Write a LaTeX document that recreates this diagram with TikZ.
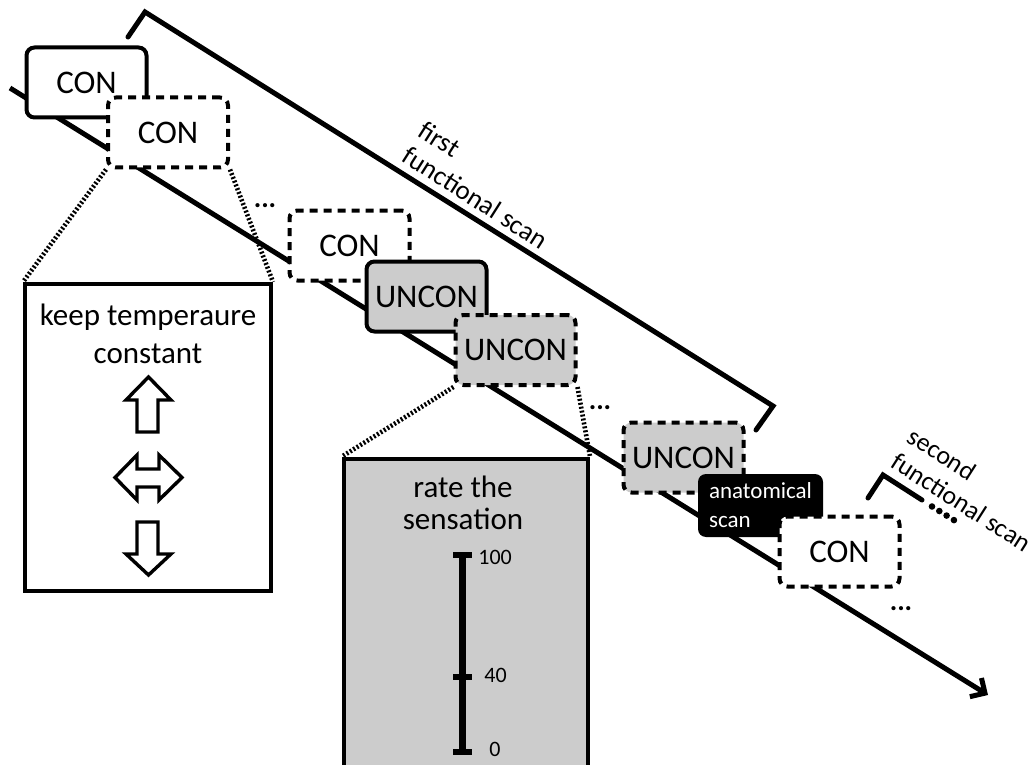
\documentclass[tikz,border=0pt]{standalone}
\usepackage{fontspec}
\setmainfont{Carlito}
\usetikzlibrary{arrows.meta}
\newcommand{\fsz}[2]{\fontsize{#1}{#2}\selectfont}
\definecolor{boxgray}{HTML}{CCCCCC}
\begin{document}
\begin{tikzpicture}[x=0.5pt,y=-0.5pt,
  box/.style={draw=black, line width=2pt, rounded corners=4pt, minimum width=60pt, minimum height=35pt, inner sep=0pt, font=\fsz{16.5}{18}, fill=white},
  dashbox/.style={box, dash pattern=on 4pt off 3pt},
  grayfill/.style={fill=boxgray},
  anatbox/.style={fill=black, rounded corners=4pt, minimum width=62.5pt, minimum height=31.5pt, inner sep=0pt, text=white, align=left, font=\fsz{11.5}{14.5}},
  dotsnode/.style={inner sep=0pt, font=\fsz{14}{15}\bfseries},
  timeline/.style={line width=2.5pt, -{Straight Barb[length=5.5pt,width=11pt]}},
  bracketline/.style={line width=2.5pt, line join=miter, line cap=round},
  bracketdots/.style={line width=3.3pt, line cap=round, dash pattern=on 0pt off 4.3pt},
  zoomline/.style={line width=2.3pt, dash pattern=on 1pt off 1pt},
  panel/.style={draw=black, line width=2pt, inner sep=0pt},
  blockarrow/.style={draw=black, line width=1.7pt, fill=white, line join=miter},
  scalebar/.style={line width=3.5pt},
  scaletick/.style={line width=2.6pt},
  scalelabel/.style={inner sep=0pt, anchor=west, font=\fsz{11}{12}},
  paneltext/.style={inner sep=0pt, anchor=north, align=center},
  scanlabel/.style={inner sep=0pt, anchor=south west, align=left, rotate=-32.5, font=\fsz{13.5}{15}}
]
\clip (0,0) rectangle (1034,765);
\useasboundingbox (0,0) rectangle (1034,765);

% time line
\coordinate (t0) at (10,88);
\coordinate (t1) at (988,695);
\draw[timeline] (t0) -- (t1);

% first functional scan bracket
\coordinate (f0) at (128,37);
\coordinate (f1) at (145,12);
\coordinate (f2) at (773,406);
\coordinate (f3) at (756,430);
\draw[bracketline] (f0) -- (f1) -- (f2) -- (f3);
\node[scanlabel] (lab1) at (400,161) {first\\functional scan};

% second functional scan bracket
\coordinate (s0) at (868,498);
\coordinate (s1) at (883,475);
\coordinate (s2) at (922,500);
\coordinate (s3) at (932,506.5);
\coordinate (s4) at (957,522);
\draw[bracketline] (s0) -- (s1) -- (s2);
\draw[bracketdots] (s3) -- (s4);
\node[scanlabel, font=\fsz{13}{15}] (lab2) at (889,467) {second\\functional scan};

% panels
\node[panel, fill=white, minimum width=123pt, minimum height=153.5pt] (lp) at (148,437.5) {};
\node[panel, fill=boxgray, minimum width=122pt, minimum height=156pt] (rp) at (466,614.5) {};

% boxes
\node[box] (c1) at (86.5,82.5) {CON};
\node[dashbox] (c2) at (168,132.5) {CON};
\node[dotsnode] (d1) at (265,206) {...};
\node[dashbox] (c3) at (349.5,245.5) {CON};
\node[box, grayfill] (u1) at (426.5,296.5) {UNCON};
\node[dashbox, grayfill] (u2) at (515.5,350) {UNCON};
\node[dotsnode] (d2) at (600,408) {...};
\node[dashbox, grayfill] (u3) at (683.5,457.5) {UNCON};
\node[anatbox] (an) at (760.5,505.5) {anatomical\\scan};
\node[dashbox] (c4) at (839.5,551.5) {CON};
\node[dotsnode] (d3) at (901,609) {...};

% zoom lines
\draw[zoomline] (c2.south west) -- (lp.north west);
\draw[zoomline] (c2.south east) -- (lp.north east);
\draw[zoomline] (u2.south west) -- (rp.north west);
\draw[zoomline] (u2.south east) -- (rp.north east);

% left panel content
\node[paneltext, font=\fsz{15.5}{19}] (lt) at (148,304) {keep temperaure\\constant};
\draw[blockarrow] (148.5,377) -- (171,400) -- (158,400) -- (158,432) -- (137,432) -- (137,400) -- (126,400) -- cycle;
\draw[blockarrow] (115,477.5) -- (137,455) -- (137,469) -- (159,469) -- (159,455) -- (182,477.5) -- (159,500) -- (159,487) -- (137,487) -- (137,500) -- cycle;
\draw[blockarrow] (137,522) -- (158,522) -- (158,554) -- (171,554) -- (148.5,575) -- (126,554) -- (137,554) -- cycle;

% right panel content
\node[paneltext, font=\fsz{15.5}{16}] (rt) at (463,476) {rate the\\sensation};
\coordinate (sb0) at (462,555);
\coordinate (sb1) at (462,753);
\draw[scalebar] (sb0) -- (sb1);
\draw[scaletick] (453,555) -- (472,555);
\draw[scaletick] (453,677) -- (472,677);
\draw[scaletick] (453,752) -- (472,752);
\node[scalelabel] (l100) at (478,557) {100};
\node[scalelabel] (l40) at (484,675) {40};
\node[scalelabel] (l0) at (489,749) {0};
\end{tikzpicture}
\end{document}
